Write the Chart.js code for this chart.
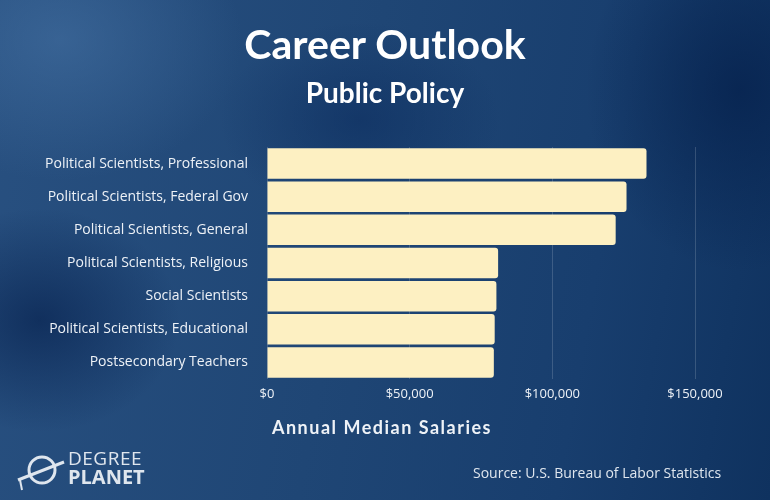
<!DOCTYPE html>
<html>
<head>
<meta charset="utf-8">
<script src="https://cdn.jsdelivr.net/npm/chart.js@4"></script>
<style>
  html, body { margin: 0; padding: 0; }
  body {
    width: 770px; height: 500px; overflow: hidden; position: relative;
    background:
      radial-gradient(ellipse 260px 200px at 60px 40px, rgba(70,115,165,0.55), rgba(70,115,165,0) 70%),
      radial-gradient(ellipse 200px 160px at 40px 320px, rgba(8,35,80,0.7), rgba(8,35,80,0) 70%),
      radial-gradient(ellipse 220px 260px at 740px 90px, rgba(6,34,78,0.8), rgba(6,34,78,0) 70%),
      radial-gradient(ellipse 200px 140px at 360px 120px, rgba(12,45,95,0.6), rgba(12,45,95,0) 70%),
      linear-gradient(100deg, #285080 0%, #1f4675 45%, #183e6e 75%, #0f325f 100%);
  }
  #wrap { position: absolute; left: 0; top: 0; width: 770px; height: 500px; }
  .title { position: absolute; left: 0; width: 770px; text-align: center; color: #fff; font-family: Lato, sans-serif; font-weight: bold; }
  .t-main { top: 19px; font-size: 41px; line-height: 50px; }
  .t-sub { top: 75px; font-size: 28px; line-height: 34px; }
  .t-axis { top: 415px; font-size: 18px; line-height: 24px; letter-spacing: 1.5px; color: #eef2f7; left: -3px; }
  .logo { position: absolute; left: 16px; top: 448px; color: #dfe6ee; font-family: "Open Sans", sans-serif; }
  .logo svg { position: absolute; left: 0; top: 4px; }
  .logo .t1 { position: absolute; left: 52px; top: 0; font-size: 19px; line-height: 20px; letter-spacing: 0.5px; }
  .logo .t2 { position: absolute; left: 52px; top: 18px; font-size: 20px; line-height: 22px; font-weight: bold; }
  .source { position: absolute; left: 473px; top: 463px; color: #dfe6ee; font-family: "Open Sans", sans-serif; font-size: 14px; }
</style>
</head>
<body>
<div id="wrap"><canvas id="chart" width="770" height="500"></canvas></div>
<div class="title t-main">Career Outlook</div>
<div class="title t-sub">Public Policy</div>
<div class="title t-axis">Annual Median Salaries</div>
<div class="logo">
  <svg width="50" height="40" viewBox="0 0 50 40">
    <ellipse cx="26" cy="18" rx="13" ry="13" fill="none" stroke="#dfe6ee" stroke-width="3"/>
    <path d="M2 28 L48 10" stroke="#dfe6ee" stroke-width="3" fill="none"/>
    <path d="M4 28 L6 38" stroke="#dfe6ee" stroke-width="2" fill="none"/>
  </svg>
  <div class="t1">DEGREE</div>
  <div class="t2">PLANET</div>
</div>
<div class="source">Source: U.S. Bureau of Labor Statistics</div>
<script>
const categories = [
  'Political Scientists, Professional',
  'Political Scientists, Federal Gov',
  'Political Scientists, General',
  'Political Scientists, Religious',
  'Social Scientists',
  'Political Scientists, Educational',
  'Postsecondary Teachers'
];
const salaries = [133000, 126000, 122200, 81000, 80400, 79800, 79500];
const tickValues = [0, 50000, 100000, 150000];

const textColor = '#eef2f7';

new Chart(document.getElementById('chart'), {
  type: 'bar',
  data: {
    labels: categories,
    datasets: [{
      label: 'Annual Median Salaries',
      data: salaries,
      backgroundColor: '#fdf0c2',
      borderRadius: 3,
      borderSkipped: 'start',
      barPercentage: 0.92,
      categoryPercentage: 1
    }]
  },
  options: {
    indexAxis: 'y',
    responsive: false,
    animation: false,
    layout: { padding: { left: 0, right: 75, top: 147, bottom: 0 } },
    plugins: {
      legend: { display: false },
      tooltip: { enabled: false }
    },
    scales: {
      x: {
        min: 0,
        max: 150000,
        afterBuildTicks: (scale) => { scale.ticks = tickValues.map(v => ({ value: v })); },
        afterFit: (scale) => { scale.height = 121; },
        grid: { color: 'rgba(255,255,255,0.16)', drawTicks: false },
        border: { display: false },
        ticks: {
          color: textColor,
          padding: 7,
          font: { family: 'Open Sans', size: 13 },
          callback: (v) => '$' + Number(v).toLocaleString('en-US')
        }
      },
      y: {
        afterFit: (scale) => { scale.width = 267; },
        grid: { display: false },
        border: { display: false },
        ticks: {
          color: textColor,
          padding: 11,
          font: { family: 'Open Sans', size: 14 }
        }
      }
    }
  }
});
</script>
</body>
</html>
